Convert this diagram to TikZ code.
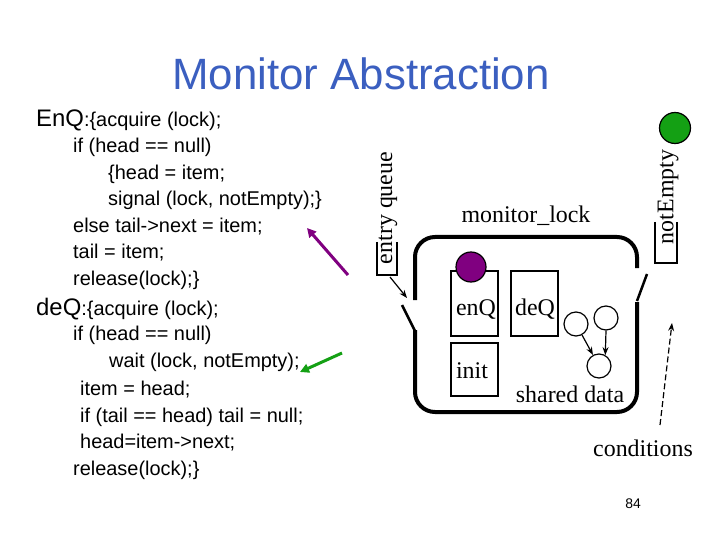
\documentclass[tikz,border=0pt]{standalone}
\usepackage{fontspec}
\setmainfont{Liberation Serif}
\newfontfamily\arialf{Liberation Sans}
\usetikzlibrary{arrows.meta}
\definecolor{titleblue}{RGB}{59,95,192}
\definecolor{mpurple}{RGB}{128,0,128}
\definecolor{mgreen}{RGB}{20,160,20}
\begin{document}
\begin{tikzpicture}[x=1bp,y=-1bp,
  code/.style={anchor=base west, inner sep=0pt, font=\arialf\fontsize{20}{24}\selectfont},
  lbl/.style={anchor=base, inner sep=0pt, font=\fontsize{24}{28}\selectfont},
  wall/.style={line width=4bp, rounded corners=20bp},
  gate/.style={line width=2.5bp},
  opbox/.style={line width=1.2bp},
  fbox/.style={draw, line width=1.2bp, inner sep=0pt, minimum width=47bp},
  dot/.style={circle, draw, line width=1.2bp, inner sep=0pt},
  small/.style={circle, draw, line width=1.2bp, inner sep=0pt, minimum size=24bp},
  thinarrow/.style={line width=1.2bp, -{Stealth[length=8bp,width=6bp]}},
  thickarrow/.style={line width=3bp, -{Triangle[length=9bp,width=9bp]}}]
\useasboundingbox (0,0) rectangle (720,540);
\fill[white] (0,0) rectangle (720,540);

% title
\node[anchor=base, inner sep=0pt, text=titleblue, font=\arialf\fontsize{44}{50}\selectfont] (title) at (361,90) {Monitor Abstraction};

% code
\node[code] (l1) at (36,127) {{\fontsize{24}{28}\selectfont EnQ}:\{acquire (lock);};
\node[code] (l2) at (73,153) {if (head == null)};
\node[code] (l3) at (108,180) {\{head = item;};
\node[code] (l4) at (108,206) {signal (lock, notEmpty);\}};
\node[code] (l5) at (73,233) {else tail->next = item;};
\node[code] (l6) at (73,259) {tail = item;};
\node[code] (l7) at (73,286) {release(lock);\}};
\node[code] (m1) at (36,315) {{\fontsize{24}{28}\selectfont deQ}:\{acquire (lock);};
\node[code] (m2) at (73,340) {if (head == null)};
\node[code] (m3) at (109,367) {wait (lock, notEmpty);};
\node[code] (m4) at (80,395) {item = head;};
\node[code] (m5) at (80,422) {if (tail == head) tail = null;};
\node[code] (m6) at (80,448) {head=item->next;};
\node[code] (m7) at (73,475) {release(lock);\}};

% monitor walls
\draw[wall] (415,300) -- (415,237) -- (637,237) -- (637,268);
\draw[wall] (637,302) -- (637,412) -- (415,412) -- (415,330);
\draw[gate] (402,305) -- (415,331);
\draw[gate] (647,274) -- (637,301);

% entry queue
\draw[opbox] (377,242) -- (377,275) -- (397,275) -- (397,242);
\node[lbl, anchor=center, rotate=90] (eq) at (388,208) {entry queue};
\coordinate (eqb) at (390,277);
\coordinate (lgate) at (407,298);
\draw[thinarrow] (eqb) -- (lgate);

% notEmpty
\draw[opbox] (655,222) -- (655,263) -- (677,263) -- (677,222);
\node[lbl, anchor=center, rotate=90] (ne) at (668,197) {notEmpty};
\node[dot, fill=mgreen, minimum size=31bp] (gc) at (675,128) {};

% monitor lock label
\node[lbl] (ml) at (526,223) {monitor\_lock};

% procedure boxes
\node[fbox, minimum height=65bp] (enq) at (474.5,303.5) {};
\node[fbox, minimum height=65bp] (deq) at (534.5,303.5) {};
\node[fbox, minimum height=53bp] (init) at (474.5,369.5) {};
\node[lbl] (enqt) at (476,315) {enQ};
\node[lbl] (deqt) at (535,315) {deQ};
\node[lbl] (initt) at (472,378) {init};
\node[dot, fill=mpurple, minimum size=30bp] (pc) at (471,267) {};

% shared data
\node[small] (c1) at (576,324) {};
\node[small] (c2) at (606,318) {};
\node[small] (c3) at (599,366) {};
\draw[thinarrow] (c1) -- (c3);
\draw[thinarrow] (c2.south) -- (c3.60);
\node[lbl] (sd) at (570,402) {shared data};

% conditions
\node[lbl] (cond) at (643,456) {conditions};
\coordinate (cs) at (660,425);
\coordinate (ce) at (672,323);
\draw[thinarrow, dashed, dash pattern=on 6bp off 3bp] (cs) -- (ce);

% colored arrows
\coordinate (ps) at (348,275);
\coordinate (pe) at (307,228);
\draw[thickarrow, mpurple] (ps) -- (pe);
\coordinate (gs) at (342,353);
\coordinate (ge) at (300,372);
\draw[thickarrow, mgreen] (gs) -- (ge);

% page number
\node[anchor=base, inner sep=0pt, font=\arialf\fontsize{14}{16}\selectfont] (pg) at (633,508) {84};
\end{tikzpicture}
\end{document}
